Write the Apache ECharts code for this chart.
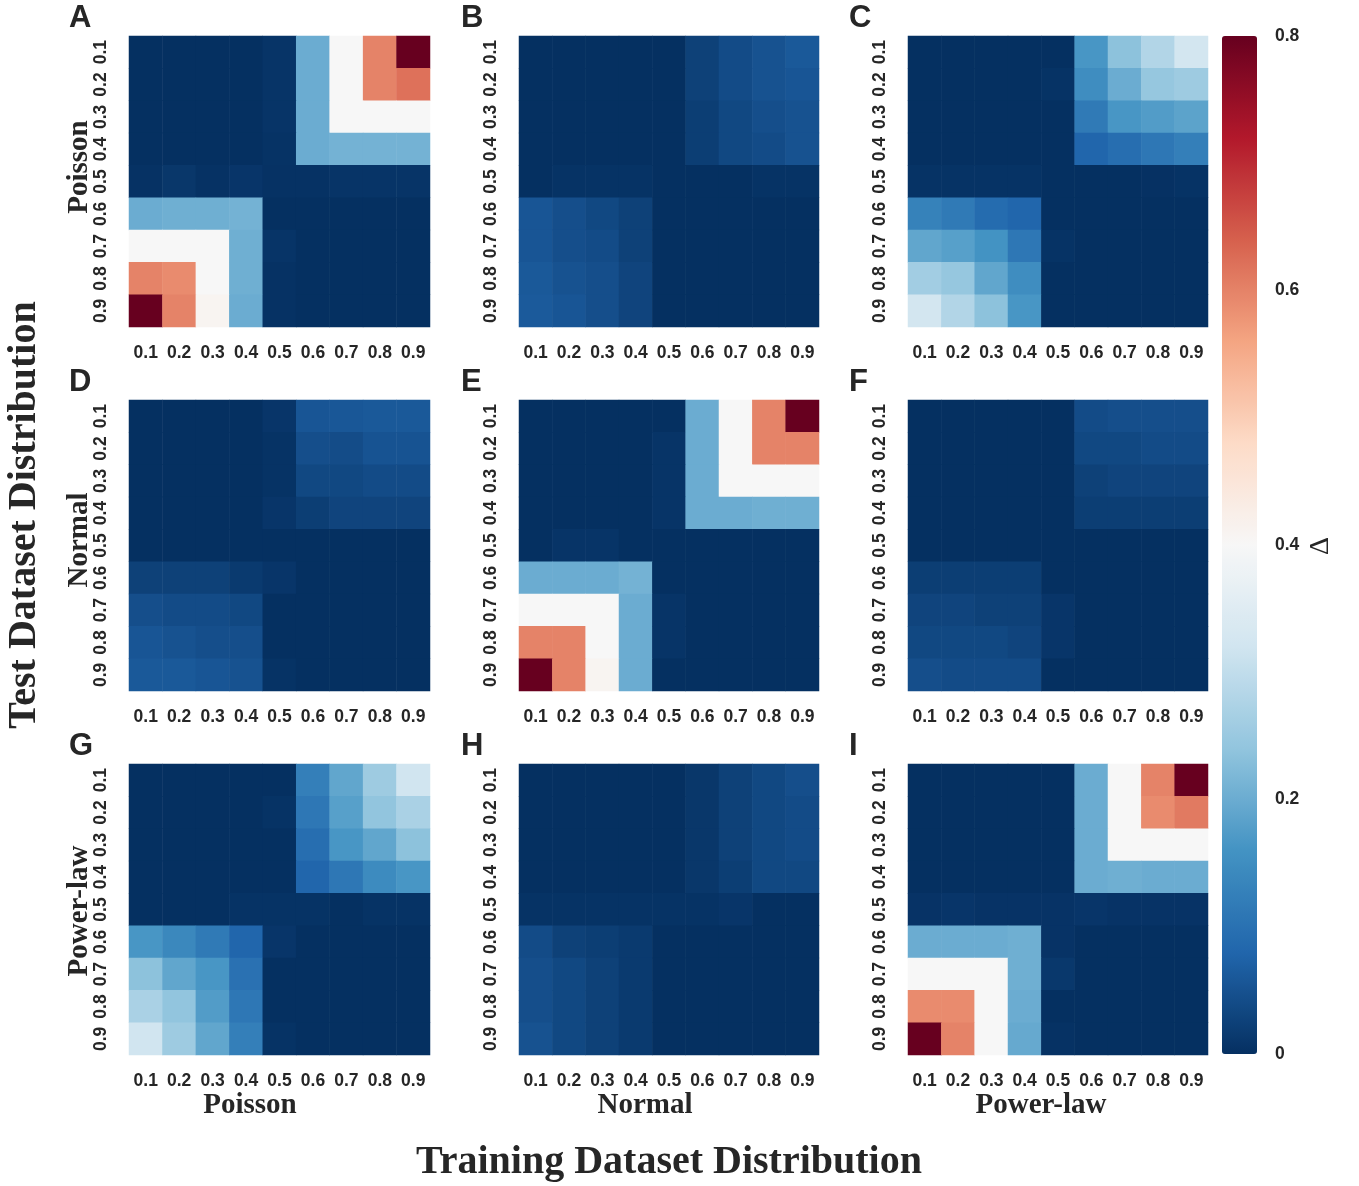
<!DOCTYPE html>
<html>
<head>
<meta charset="utf-8">
<script src="https://cdn.jsdelivr.net/npm/echarts@6/dist/echarts.min.js"></script>
<style>
html,body{margin:0;padding:0;background:#fff;}
#chart{width:1359px;height:1186px;}
</style>
</head>
<body>
<div id="chart"></div>
<script>
// tick labels (fraction levels) for both axes
const levels = ['0.1','0.2','0.3','0.4','0.5','0.6','0.7','0.8','0.9'];
const distributions = ['Poisson','Normal','Power-law'];
const panelLetters = ['A','B','C','D','E','F','G','H','I'];
const colorbarTicks = [0, 0.2, 0.4, 0.6, 0.8];

// Each panel: rows = test level 0.1..0.9 (top to bottom), cols = train level 0.1..0.9
// Row of panels = test distribution, column of panels = training distribution
const panelA = [ // train Poisson, test Poisson
  [0,0,0,0,0.006,0.2,0.4,0.6,0.8],
  [0,0,0,0,0.006,0.2,0.4,0.6,0.62],
  [0,0,0,0,0.006,0.2,0.4,0.4,0.4],
  [0,0,0,0,0.004,0.2,0.21,0.21,0.21],
  [0.003,0.01,0.003,0.008,0.003,0.003,0.006,0.006,0.006],
  [0.2,0.205,0.205,0.21,0,0,0,0,0],
  [0.4,0.4,0.4,0.205,0.006,0,0,0,0],
  [0.6,0.59,0.4,0.205,0.003,0,0,0,0],
  [0.8,0.6,0.41,0.2,0.003,0,0,0,0]
];
const panelB = [ // train Normal, test Poisson
  [0,0,0,0,0,0.025,0.04,0.05,0.06],
  [0,0,0,0,0,0.025,0.04,0.05,0.055],
  [0,0,0,0,0,0.02,0.035,0.045,0.05],
  [0,0,0,0,0,0.02,0.035,0.04,0.05],
  [0,0.004,0.004,0.004,0,0,0,0.004,0.004],
  [0.055,0.045,0.035,0.025,0,0,0,0,0],
  [0.055,0.045,0.04,0.025,0,0,0,0,0],
  [0.06,0.05,0.045,0.03,0,0,0,0,0],
  [0.062,0.055,0.045,0.03,0,0,0,0,0]
];
const panelC = [ // train Power-law, test Poisson
  [0,0,0,0,0,0.165,0.235,0.28,0.325],
  [0,0,0,0,0.004,0.15,0.2,0.245,0.255],
  [0,0,0,0,0,0.115,0.165,0.175,0.185],
  [0,0,0,0,0,0.08,0.095,0.11,0.125],
  [0.004,0.004,0.004,0.004,0,0,0,0.002,0.004],
  [0.13,0.115,0.09,0.08,0,0,0,0,0],
  [0.19,0.18,0.16,0.11,0.004,0,0,0,0],
  [0.26,0.245,0.19,0.15,0,0,0,0,0],
  [0.325,0.28,0.235,0.165,0,0,0,0,0]
];
const panelD = [ // train Poisson, test Normal
  [0,0,0,0,0.008,0.055,0.058,0.06,0.06],
  [0,0,0,0,0.004,0.045,0.042,0.052,0.052],
  [0,0,0,0,0.004,0.035,0.035,0.04,0.04],
  [0,0,0,0,0.008,0.02,0.03,0.03,0.03],
  [0,0,0,0,0,0,0,0,0],
  [0.025,0.025,0.025,0.015,0.008,0,0,0,0],
  [0.045,0.04,0.04,0.035,0,0,0,0,0],
  [0.055,0.05,0.045,0.045,0,0,0,0,0],
  [0.06,0.06,0.055,0.05,0.004,0,0,0,0]
];
const panelE = [ // train Normal, test Normal
  [0,0,0,0,0,0.2,0.4,0.6,0.8],
  [0,0,0,0,0.006,0.2,0.4,0.6,0.6],
  [0,0,0,0,0.006,0.2,0.4,0.4,0.4],
  [0,0,0,0,0.006,0.2,0.2,0.205,0.205],
  [0,0.006,0.006,0,0,0,0,0,0],
  [0.2,0.2,0.2,0.21,0,0,0,0,0],
  [0.4,0.4,0.4,0.2,0.006,0,0,0,0],
  [0.6,0.6,0.4,0.2,0.006,0,0,0,0],
  [0.8,0.6,0.41,0.2,0,0,0,0,0]
];
const panelF = [ // train Power-law, test Normal
  [0,0,0,0,0,0.04,0.045,0.045,0.045],
  [0,0,0,0,0,0.035,0.035,0.04,0.04],
  [0,0,0,0,0,0.025,0.03,0.03,0.03],
  [0,0,0,0,0,0.02,0.02,0.02,0.02],
  [0,0,0,0,0,0,0,0,0],
  [0.02,0.02,0.02,0.02,0,0,0,0,0],
  [0.03,0.03,0.025,0.025,0.008,0,0,0,0],
  [0.035,0.035,0.035,0.03,0.008,0,0,0,0],
  [0.045,0.04,0.04,0.04,0,0,0,0,0]
];
const panelG = [ // train Poisson, test Power-law
  [0,0,0,0,0,0.125,0.19,0.255,0.32],
  [0,0,0,0,0.004,0.11,0.18,0.24,0.27],
  [0,0,0,0,0,0.095,0.165,0.19,0.235],
  [0,0,0,0,0,0.08,0.11,0.145,0.165],
  [0,0,0,0.004,0.004,0.004,0,0.004,0.004],
  [0.165,0.14,0.115,0.08,0.008,0,0,0,0],
  [0.235,0.19,0.165,0.1,0,0,0,0,0],
  [0.27,0.24,0.175,0.11,0,0,0,0,0],
  [0.32,0.255,0.19,0.125,0.004,0,0,0,0]
];
const panelH = [ // train Normal, test Power-law
  [0,0,0,0,0,0.01,0.025,0.035,0.045],
  [0,0,0,0,0,0.01,0.025,0.035,0.04],
  [0,0,0,0,0,0.01,0.025,0.035,0.04],
  [0,0,0,0,0,0.01,0.02,0.035,0.035],
  [0.004,0.004,0.004,0.004,0.004,0.004,0.008,0,0],
  [0.04,0.025,0.02,0.015,0,0,0,0,0],
  [0.045,0.035,0.025,0.015,0,0,0,0,0],
  [0.045,0.035,0.025,0.015,0,0,0,0,0],
  [0.05,0.035,0.025,0.015,0,0,0,0,0]
];
const panelI = [ // train Power-law, test Power-law
  [0,0,0,0,0,0.2,0.4,0.6,0.8],
  [0,0,0,0,0,0.2,0.4,0.59,0.61],
  [0,0,0,0,0,0.2,0.4,0.4,0.4],
  [0,0,0,0,0,0.2,0.205,0.2,0.2],
  [0.005,0.008,0.005,0.005,0.005,0.008,0.005,0.005,0.005],
  [0.2,0.2,0.2,0.205,0.005,0,0,0,0],
  [0.4,0.4,0.4,0.205,0.012,0,0,0,0],
  [0.59,0.59,0.4,0.2,0,0,0,0,0],
  [0.8,0.6,0.4,0.195,0.003,0,0,0,0]
];
const panels = [panelA,panelB,panelC,panelD,panelE,panelF,panelG,panelH,panelI];

const RdBu_r = ['#053061','#2166ac','#4393c3','#92c5de','#d1e5f0','#f7f7f7','#fddbc7','#f4a582','#d6604d','#b2182b','#67001f'];

const colLeft = [129, 519, 908];
const colWidth = [301, 300, 300];
const rowTop = [36, 400, 764];
const rowHeight = 291;
const textColor = '#262626';
const sans = '"Liberation Sans", Arial, sans-serif';
const serif = '"Liberation Serif", "Times New Roman", serif';

const chart = echarts.init(document.getElementById('chart'), null, {renderer:'canvas'});

const grid = [], xAxis = [], yAxis = [], series = [];
panels.forEach((m, i) => {
  const r = Math.floor(i / 3), c = i % 3;
  grid.push({left: colLeft[c], top: rowTop[r], width: colWidth[c], height: rowHeight, containLabel:false});
  xAxis.push({
    type:'category', gridIndex:i, data:levels, position:'bottom',
    axisLine:{show:false}, axisTick:{show:false}, splitLine:{show:false}, splitArea:{show:false},
    axisLabel:{color:textColor, fontFamily:sans, fontWeight:'bold', fontSize:17.5, margin:17, interval:0}
  });
  yAxis.push({
    type:'category', gridIndex:i, data:levels, inverse:true,
    axisLine:{show:false}, axisTick:{show:false}, splitLine:{show:false}, splitArea:{show:false},
    axisLabel:{color:textColor, fontFamily:sans, fontWeight:'bold', fontSize:17.5, margin:19, rotate:90, interval:0}
  });
  const data = [];
  m.forEach((row, yi) => row.forEach((v, xi) => data.push([xi, yi, v])));
  series.push({
    type:'heatmap', xAxisIndex:i, yAxisIndex:i, data:data,
    itemStyle:{borderWidth:0}, emphasis:{disabled:true}, progressive:0
  });
});

// colour-bar axis grid
grid.push({left:1222, top:36, width:35, height:1018});
xAxis.push({type:'value', gridIndex:9, show:false, min:0, max:1});
yAxis.push({
  type:'value', gridIndex:9, min:0, max:0.8, interval:0.2, position:'right',
  axisLine:{show:false}, axisTick:{show:false}, splitLine:{show:false},
  axisLabel:{color:textColor, fontFamily:sans, fontWeight:'bold', fontSize:17.5, margin:18,
    formatter: v => (colorbarTicks.indexOf(Math.round(v*10)/10) >= 0 ? (v === 0 ? '0' : v.toFixed(1)) : '')}
});

const graphic = [];
panelLetters.forEach((L, i) => {
  const r = Math.floor(i / 3), c = i % 3;
  graphic.push({type:'text', x:[69,461,849][c], y:[18,382,746][r],
    style:{text:L, font:'bold 31px ' + sans, fill:textColor, textAlign:'left', textVerticalAlign:'middle'}});
});
const rowLabelY = [167, 540, 911];
const colLabelX = [250, 645, 1041];
distributions.forEach((d, i) => {
  graphic.push({type:'text', x:80, y:rowLabelY[i], rotation:Math.PI/2,
    style:{text:d, font:'bold 29px ' + serif, fill:textColor, textAlign:'center', textVerticalAlign:'middle'}});
  graphic.push({type:'text', x:colLabelX[i], y:1106,
    style:{text:d, font:'bold 29px ' + serif, fill:textColor, textAlign:'center', textVerticalAlign:'middle'}});
});
graphic.push({type:'text', x:25, y:515, rotation:Math.PI/2,
  style:{text:'Test Dataset Distribution', font:'bold 40px ' + serif, fill:textColor, textAlign:'center', textVerticalAlign:'middle'}});
graphic.push({type:'text', x:669, y:1163,
  style:{text:'Training Dataset Distribution', font:'bold 40px ' + serif, fill:textColor, textAlign:'center', textVerticalAlign:'middle'}});
graphic.push({type:'text', x:1321, y:546, rotation:Math.PI/2,
  style:{text:'Δ', font:'28px ' + serif, fill:textColor, textAlign:'center', textVerticalAlign:'middle'}});

chart.setOption({
  animation:false,
  backgroundColor:'#ffffff',
  grid, xAxis, yAxis, series, graphic,
  visualMap:{
    type:'continuous', min:0, max:0.8, seriesIndex:[0,1,2,3,4,5,6,7,8],
    inRange:{color:RdBu_r}, show:true, calculable:false, hoverLink:false,
    orient:'vertical', left:1222, top:36, itemWidth:35, itemHeight:1018, padding:0,
    text:null, showLabel:false
  }
});
</script>
</body>
</html>
